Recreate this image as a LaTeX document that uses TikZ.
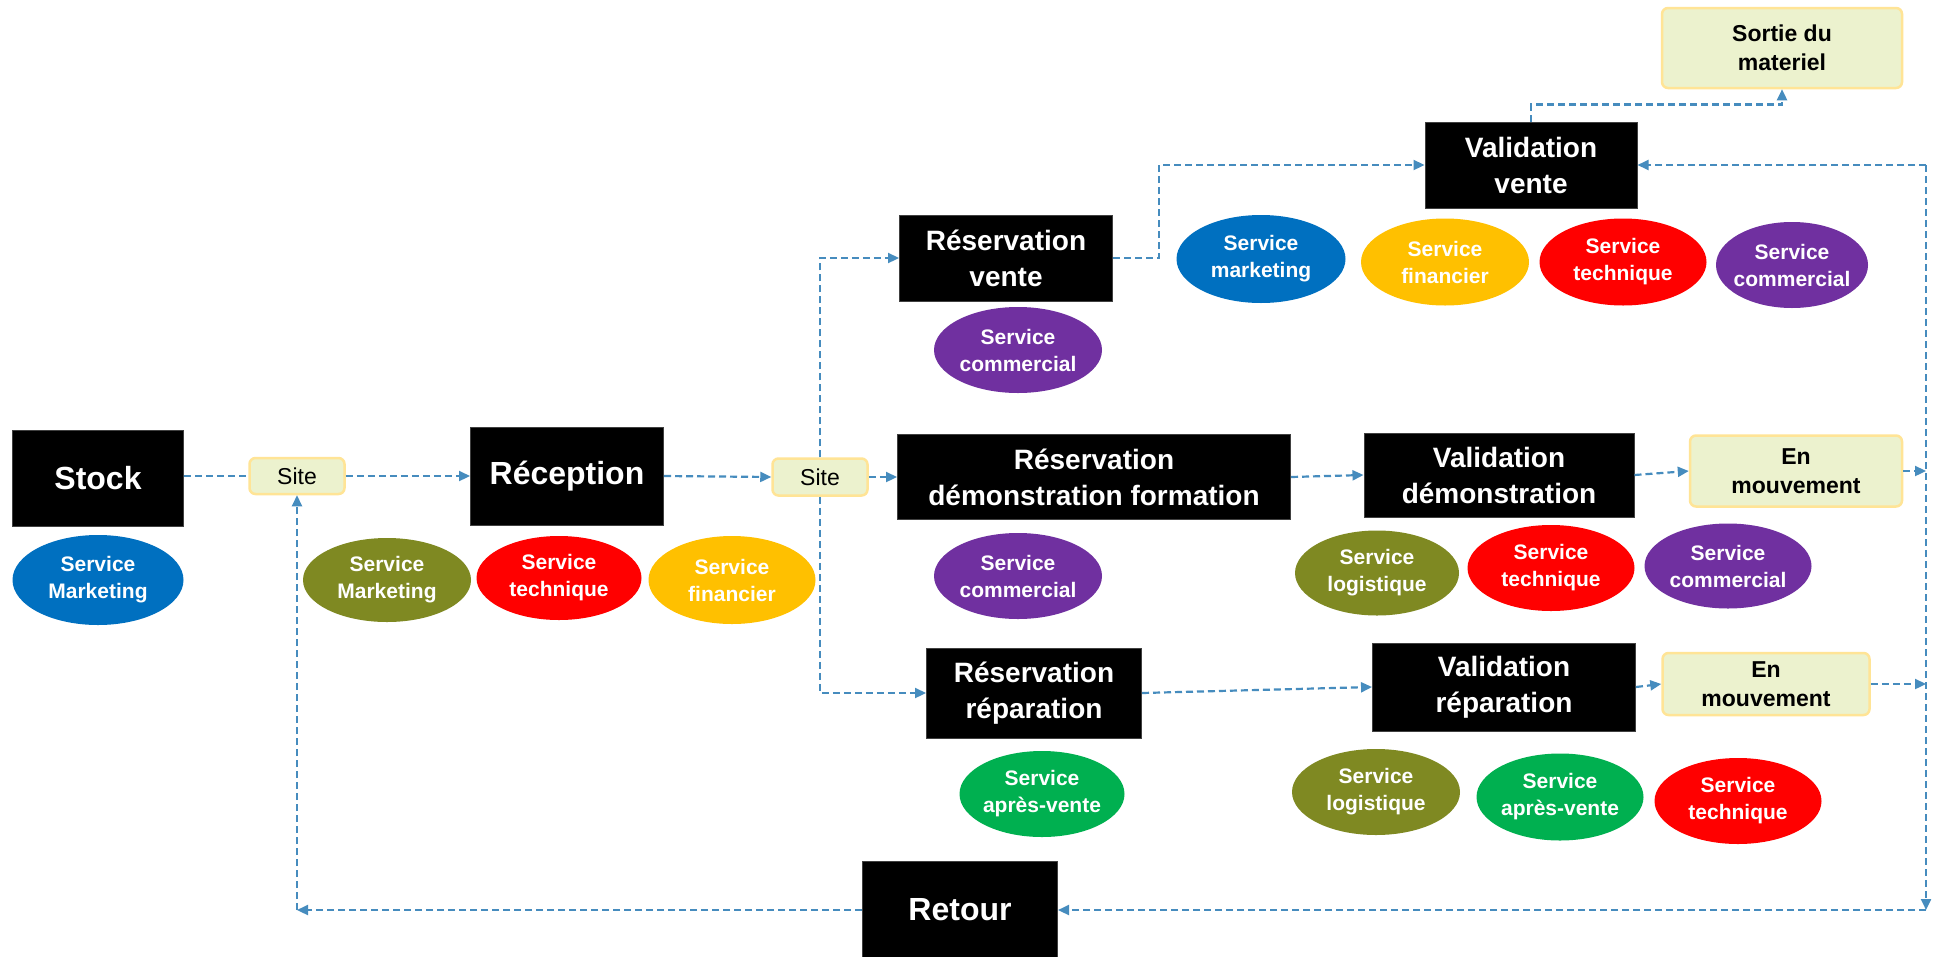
\documentclass[tikz,border=0pt]{standalone}
\usepackage{fontspec}
\setmainfont{Liberation Sans}
\usetikzlibrary{arrows.meta,shapes.geometric}
\definecolor{cblue}{RGB}{0,112,192}
\definecolor{colive}{RGB}{127,137,34}
\definecolor{cred}{RGB}{255,0,0}
\definecolor{cyellow}{RGB}{255,192,0}
\definecolor{cpurple}{RGB}{112,48,160}
\definecolor{cgreen}{RGB}{0,176,80}
\definecolor{lightfill}{RGB}{236,242,206}
\definecolor{lightborder}{RGB}{255,228,150}
\definecolor{linec}{RGB}{70,140,190}
\definecolor{boxborder}{RGB}{64,64,64}
\tikzset{
  blackbox/.style={fill=black, draw=boxborder, line width=1pt, text=white,
    font=\bfseries\fontsize{28}{36}\selectfont, align=center, inner sep=0pt},
  bigbox/.style={blackbox, font=\bfseries\fontsize{32}{38}\selectfont},
  lightbox/.style={fill=lightfill, draw=lightborder, line width=2.5pt, rounded corners=6pt,
    align=center, inner sep=0pt, font=\bfseries\fontsize{23}{29}\selectfont},
  sitebox/.style={lightbox, font=\fontsize{23}{28}\selectfont},
  svc/.style={ellipse, inner xsep=-25pt, inner ysep=0pt, text=white, align=center,
    font=\bfseries\fontsize{21}{27}\selectfont},
  conn/.style={draw=linec, line width=2.2pt, dash pattern=on 7pt off 4pt,
    -{Triangle[length=11pt,width=10pt]}},
  plainconn/.style={draw=linec, line width=2.2pt, dash pattern=on 7pt off 4pt}
}
\begin{document}
\begin{tikzpicture}[x=1pt,y=-1pt]
\useasboundingbox[fill=white] (0,0) rectangle (1940,956);

% main boxes
\node[bigbox, minimum width=171pt, minimum height=96pt] (stock) at (98,478) {Stock};
\node[sitebox, minimum width=95pt, minimum height=36pt] (site1) at (297,476) {Site};
\node[bigbox, minimum width=193pt, minimum height=98pt] (recep) at (567,476) {Réception};
\node[sitebox, minimum width=95pt, minimum height=37pt] (site2) at (820,477) {Site};
\node[blackbox, minimum width=213pt, minimum height=86pt] (resvente) at (1006,258) {Réservation\\vente};
\node[blackbox, minimum width=212pt, minimum height=86pt] (valvente) at (1531,165) {Validation\\vente};
\node[lightbox, minimum width=240pt, minimum height=80pt] (sortie) at (1782,48) {Sortie du\\materiel};
\node[blackbox, minimum width=393pt, minimum height=85pt] (resdemo) at (1094,477) {Réservation\\démonstration formation};
\node[blackbox, minimum width=270pt, minimum height=84pt] (valdemo) at (1499,475) {Validation\\démonstration};
\node[lightbox, minimum width=212pt, minimum height=71pt] (enmouv1) at (1796,471) {En\\mouvement};
\node[blackbox, minimum width=215pt, minimum height=90pt] (resrep) at (1034,693) {Réservation\\réparation};
\node[blackbox, minimum width=263pt, minimum height=88pt] (valrep) at (1504,687) {Validation\\réparation};
\node[lightbox, minimum width=207pt, minimum height=62pt] (enmouv2) at (1766,684) {En\\mouvement};
\node[bigbox, minimum width=195pt, minimum height=98pt] (retour) at (960,910) {Retour};

% services
\node[svc, fill=cblue, minimum width=171pt, minimum height=90pt] (es) at (98,580) {Service\\Marketing};
\node[svc, fill=colive, minimum width=168pt, minimum height=84pt] (er1) at (387,580) {Service\\Marketing};
\node[svc, fill=cred, minimum width=165pt, minimum height=84pt] (er2) at (559,578) {Service\\technique};
\node[svc, fill=cyellow, minimum width=167pt, minimum height=88pt] (er3) at (732,580) {Service\\financier};
\node[svc, fill=cpurple, minimum width=168pt, minimum height=86pt] (erv) at (1018,350) {Service\\commercial};
\node[svc, fill=cblue, minimum width=169pt, minimum height=88pt] (evv1) at (1261,259) {Service\\marketing};
\node[svc, fill=cyellow, minimum width=168pt, minimum height=87pt] (evv2) at (1445,262) {Service\\financier};
\node[svc, fill=cred, minimum width=167pt, minimum height=87pt] (evv3) at (1623,262) {Service\\technique};
\node[svc, fill=cpurple, minimum width=152pt, minimum height=86pt] (evv4) at (1792,265) {Service\\commercial};
\node[svc, fill=cpurple, minimum width=168pt, minimum height=86pt] (erd) at (1018,576) {Service\\commercial};
\node[svc, fill=colive, minimum width=164pt, minimum height=85pt] (evd1) at (1377,573) {Service\\logistique};
\node[svc, fill=cred, minimum width=167pt, minimum height=86pt] (evd2) at (1551,568) {Service\\technique};
\node[svc, fill=cpurple, minimum width=167pt, minimum height=85pt] (evd3) at (1728,566) {Service\\commercial};
\node[svc, fill=cgreen, minimum width=165pt, minimum height=86pt] (err) at (1042,794) {Service\\après-vente};
\node[svc, fill=colive, minimum width=168pt, minimum height=86pt] (evr1) at (1376,792) {Service\\logistique};
\node[svc, fill=cgreen, minimum width=167pt, minimum height=87pt] (evr2) at (1560,797) {Service\\après-vente};
\node[svc, fill=cred, minimum width=167pt, minimum height=86pt] (evr3) at (1738,801) {Service\\technique};

% connector points
\coordinate (rtop) at (1926,165);
\coordinate (r1) at (1926,471);
\coordinate (r2) at (1926,684);
\coordinate (rbot) at (1926,910);
\coordinate (lcorner) at (297,910);

% connectors
\draw[plainconn] (stock.east |- site1.west) -- (site1.west);
\draw[conn] (site1.east) -- (recep.west);
\draw[conn] (recep.east) -- (site2.west);
\draw[conn] (site2.east) -- (resdemo.west);
\draw[conn] (site2.north) |- (resvente.west);
\draw[conn] (site2.south) |- (resrep.west);
\draw[conn] (resvente.east) -- ++(46,0) |- (valvente.west);
\draw[conn] (valvente.north) -- ++(0,-17) -| (sortie.south);
\draw[conn] (resdemo.east) -- (valdemo.west);
\draw[conn] (valdemo.east) -- (enmouv1.west);
\draw[conn] (enmouv1.east) -- (r1);
\draw[conn] (resrep.east) -- (valrep.west);
\draw[conn] (valrep.east) -- (enmouv2.west);
\draw[conn] (enmouv2.east) -- (r2);
\draw[conn] (rtop) -- (valvente.east);
\draw[conn] (rtop) -- (rbot);
\draw[conn] (rbot) -- (retour.east);
\draw[conn] (retour.west) -- (lcorner);
\draw[conn] (lcorner) -- (site1.south);
\end{tikzpicture}
\end{document}
